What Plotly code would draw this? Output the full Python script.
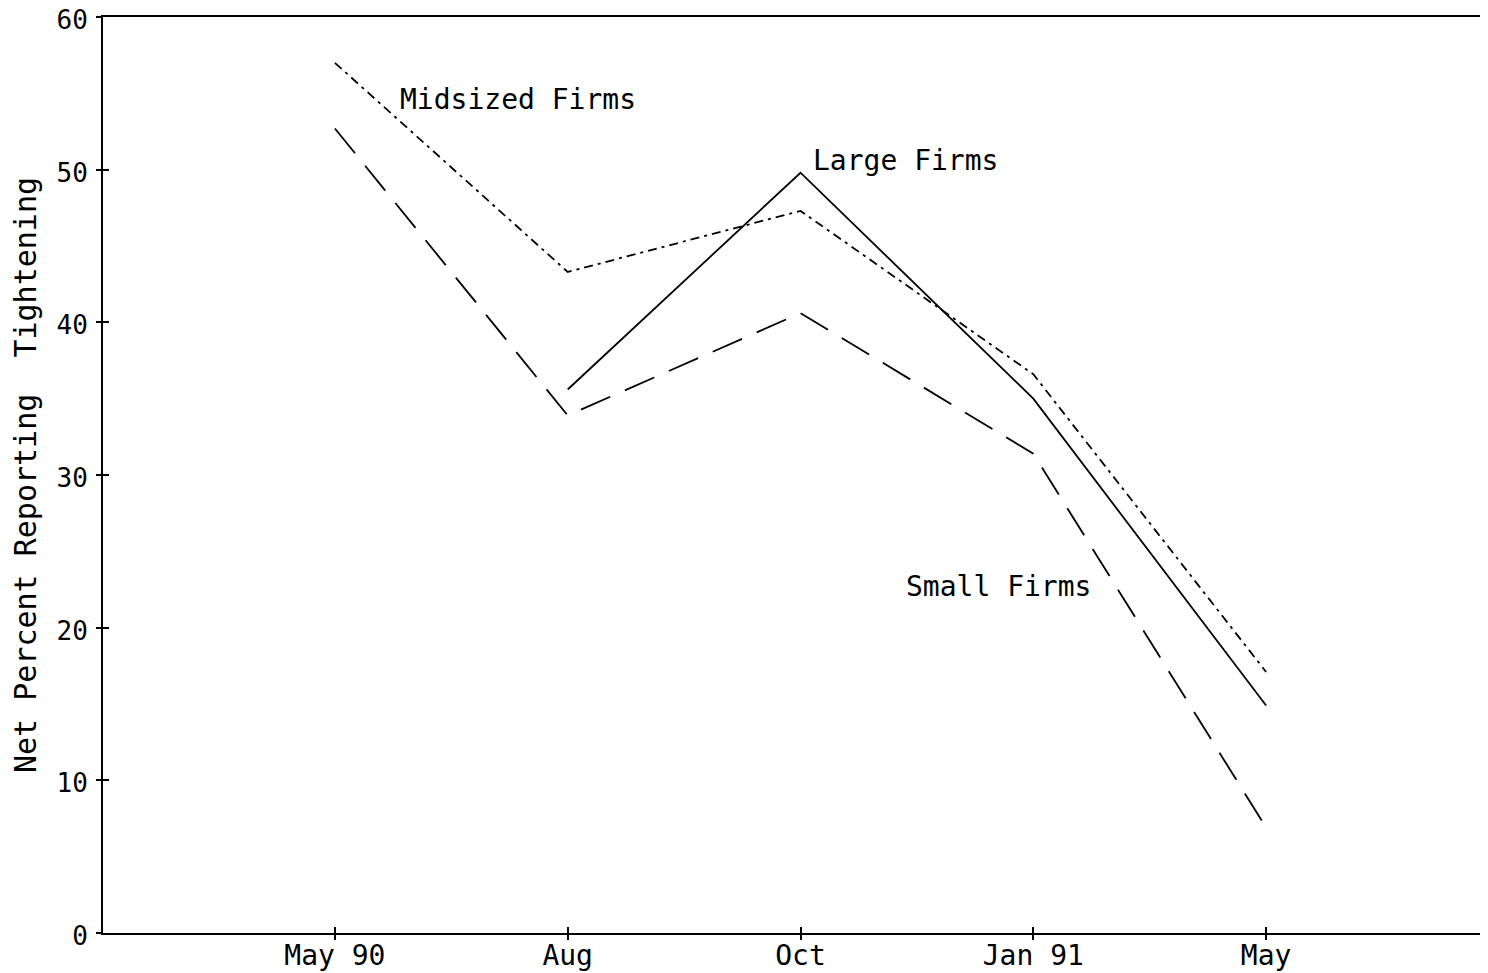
import plotly.graph_objects as go

categories = ["May 90", "Aug", "Oct", "Jan 91", "May"]
large_firms = [None, 35.6, 49.8, 35.0, 14.9]
midsized_firms = [57.0, 43.3, 47.3, 36.6, 17.1]
small_firms = [52.7, 33.9, 40.6, 31.4, 6.9]
y_ticks = [0, 10, 20, 30, 40, 50, 60]

xi = list(range(len(categories)))
FONT = "DejaVu Sans Mono"
FS = 28

fig = go.Figure()
fig.add_trace(go.Scatter(x=xi, y=large_firms, mode="lines", connectgaps=False,
                         line=dict(color="black", width=1.8), name="Large Firms"))
fig.add_trace(go.Scatter(x=xi, y=midsized_firms, mode="lines",
                         line=dict(color="black", width=1.8, dash="9px,5px,3px,5px"),
                         name="Midsized Firms"))
fig.add_trace(go.Scatter(x=xi, y=small_firms, mode="lines",
                         line=dict(color="black", width=1.8, dash="32px,16px"),
                         name="Small Firms"))
# invisible traces carrying the crossing tick marks (inside and outside halves)
fig.add_trace(go.Scatter(x=xi, y=midsized_firms, mode="lines", xaxis="x2", yaxis="y2",
                         line=dict(color="rgba(0,0,0,0)"), hoverinfo="skip", showlegend=False))
fig.add_trace(go.Scatter(x=xi, y=midsized_firms, mode="lines", xaxis="x3", yaxis="y3",
                         line=dict(color="rgba(0,0,0,0)"), hoverinfo="skip", showlegend=False))

labels = [("Midsized Firms", 0.27, 54.6), ("Large Firms", 2.045, 50.6), ("Small Firms", 2.445, 22.7)]
for txt, x, y in labels:
    fig.add_annotation(x=x, y=y, text=txt, showarrow=False, xanchor="left", yanchor="middle",
                       font=dict(family=FONT, size=FS, color="black"))

xr = [-0.996, 4.953]
yr = [0, 60]
tick_common = dict(showticklabels=False, showgrid=False, zeroline=False,
                   ticklen=6, tickwidth=1.5, tickcolor="black", automargin=False)
fig.update_layout(
    width=1480, height=965,
    margin=dict(l=95, r=0, t=9, b=40, pad=0),
    plot_bgcolor="white", paper_bgcolor="white",
    showlegend=False,
    font=dict(family=FONT, size=FS, color="black"),
    xaxis=dict(range=xr, tickvals=xi, ticktext=categories, showgrid=False, zeroline=False,
               showline=True, linecolor="black", linewidth=2, mirror=True,
               ticks="", automargin=False, ticklabeloverflow="allow", ticklabelstandoff=-4,
               tickfont=dict(family=FONT, size=FS)),
    yaxis=dict(range=yr, tickvals=y_ticks, showgrid=False, zeroline=False,
               showline=True, linecolor="black", linewidth=2, mirror=False,
               ticks="", automargin=False, ticklabeloverflow="allow", ticklabelstandoff=8,
               ticklabelshift=3,
               tickfont=dict(family=FONT, size=26),
               title=dict(text="Net Percent Reporting  Tightening", standoff=15,
                          font=dict(family=FONT, size=30))),
    xaxis2=dict(range=xr, overlaying="x", tickvals=xi, ticks="inside", **tick_common),
    yaxis2=dict(range=yr, overlaying="y", tickvals=y_ticks, ticks="inside", **tick_common),
    xaxis3=dict(range=xr, overlaying="x", tickvals=xi, ticks="outside", **tick_common),
    yaxis3=dict(range=yr, overlaying="y", tickvals=y_ticks, ticks="outside", **tick_common),
)
fig.write_html("out.html")
